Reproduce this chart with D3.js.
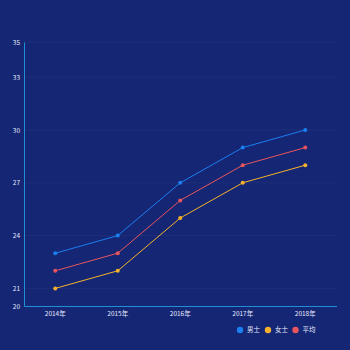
<!DOCTYPE html>
<html><head><meta charset="utf-8">
<script src="https://cdn.jsdelivr.net/npm/d3@7"></script>
<style>html,body{margin:0;padding:0;background:#152674;}svg{display:block;}</style>
</head><body>
<svg id="c" width="350" height="350"></svg>
<script>
const categories = ["2014年","2015年","2016年","2017年","2018年"];
const seriesNames = ["男士","女士","平均"];
const male = [23,24,27,29,30];
const female = [21,22,25,27,28];
const average = [22,23,26,28,29];
const yTicks = [20,21,24,27,30,33,35];
const colors = ["#1a7ff0","#f5b22d","#e8555c"];

(function(){
const svg = d3.select("#c");
const mLeft = 24, mRight = 336.5, mTop = 42, mBottom = 306;
const x = d3.scaleBand().domain(categories).range([mLeft, mRight]);
const y = d3.scaleLinear().domain([20,35]).range([mBottom, mTop]);

svg.append("g").selectAll("line").data(yTicks.filter(d=>d>20)).join("line")
  .attr("x1", mLeft).attr("x2", mRight).attr("y1", d=>y(d)).attr("y2", d=>y(d))
  .attr("stroke","rgba(255,255,255,0.045)").attr("stroke-width",1);

const yAxis = svg.append("g").attr("transform",`translate(${mLeft},0)`)
  .call(d3.axisLeft(y).tickValues(yTicks).tickSize(0).tickPadding(4).tickFormat(d3.format("d")));
yAxis.select(".domain").attr("stroke","#1f8fd6").attr("stroke-width",1);
yAxis.selectAll("text").attr("fill","#e6ecff").style("font-size","6.5px").style("font-family","Noto Sans CJK SC, sans-serif");

const xAxis = svg.append("g").attr("transform",`translate(0,${mBottom})`)
  .call(d3.axisBottom(x).tickSize(0).tickPadding(5));
xAxis.select(".domain").attr("stroke","#1f8fd6").attr("stroke-width",1);
xAxis.selectAll("text").attr("fill","#e6ecff").style("font-size","6.5px").style("font-family","Noto Sans CJK SC, sans-serif");

const data = [male, female, average];
const line = d3.line().x((d,i)=>x(categories[i])+x.bandwidth()/2).y(d=>y(d));
data.forEach((s,k)=>{
  svg.append("path").datum(s).attr("d",line).attr("fill","none")
    .attr("stroke",colors[k]).attr("stroke-width",1);
  svg.append("g").selectAll("circle").data(s).join("circle")
    .attr("cx",(d,i)=>x(categories[i])+x.bandwidth()/2).attr("cy",d=>y(d))
    .attr("r",2).attr("fill",colors[k]);
});

const legX = [240, 268, 295.5];
const lg = svg.append("g");
seriesNames.forEach((n,k)=>{
  lg.append("circle").attr("cx",legX[k]).attr("cy",330).attr("r",3.2).attr("fill",colors[k]);
  lg.append("text").attr("x",legX[k]+7).attr("y",330).attr("dy","0.35em")
    .attr("fill","#e6ecff").style("font-size","6.5px").style("font-family","Noto Sans CJK SC, sans-serif").text(n);
});
})();
</script>
</body></html>
